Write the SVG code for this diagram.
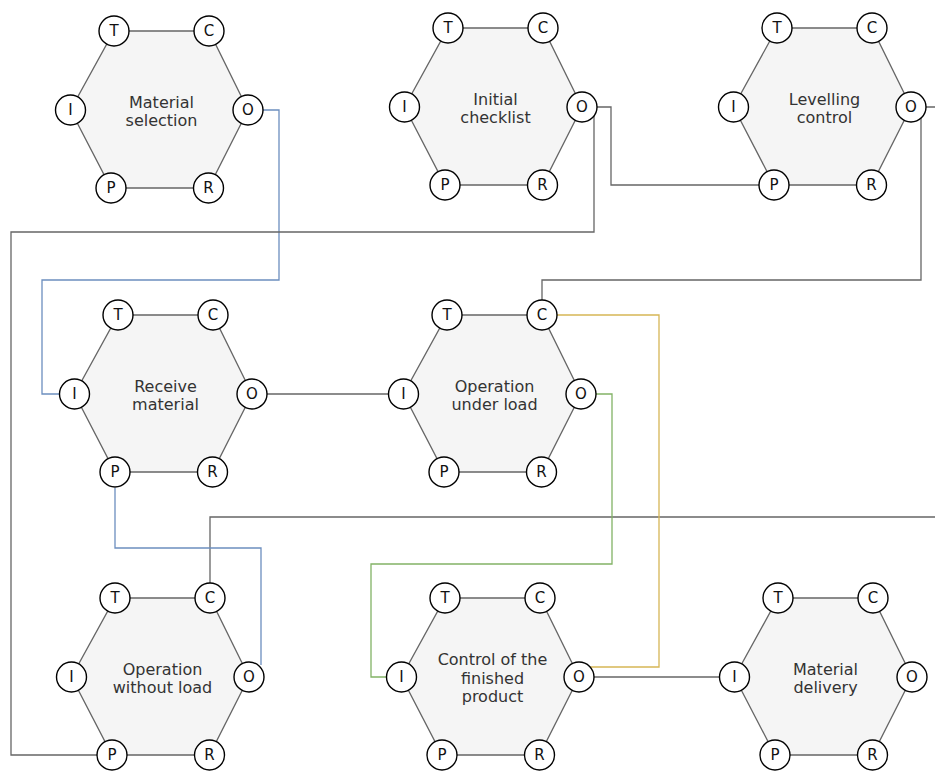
<svg xmlns="http://www.w3.org/2000/svg" width="935" height="771" viewBox="0 0 935 771">
  <style>
    .hex { fill: #f5f5f5; stroke: #666666; stroke-width: 1.3; }
    .port { fill: #ffffff; stroke: #000000; stroke-width: 1.4; }
    .pl { font-family: "DejaVu Sans", Verdana, sans-serif; font-size: 15px; fill: #111111; text-anchor: middle; dominant-baseline: central; }
    .lbl { font-family: "DejaVu Sans", Verdana, sans-serif; font-size: 16px; fill: #333333; text-anchor: middle; }
    .wire { fill: none; stroke-width: 1.3; }
    .gray { stroke: #666666; }
    .blue { stroke: #6c8ebf; }
    .green { stroke: #82b366; }
    .yellow { stroke: #d6b656; }
  </style>
  <defs>
    <!-- Hexagon with its six ports, centred on the origin -->
    <g id="hexnode">
      <polygon class="hex" points="-47.5,-79 47.5,-79 86.5,0 47,78 -50.5,78 -91,0"/>
      <circle class="port" cx="-47.5" cy="-79" r="15"/><text class="pl" x="-47.5" y="-79">T</text>
      <circle class="port" cx="47.5" cy="-79" r="15"/><text class="pl" x="47.5" y="-79">C</text>
      <circle class="port" cx="-91" cy="0" r="15"/><text class="pl" x="-91" y="0">I</text>
      <circle class="port" cx="86.5" cy="0" r="15"/><text class="pl" x="86.5" y="0">O</text>
      <circle class="port" cx="-50.5" cy="78" r="15"/><text class="pl" x="-50.5" y="78">P</text>
      <circle class="port" cx="47" cy="78" r="15"/><text class="pl" x="47" y="78">R</text>
    </g>
  </defs>

  <!-- connectors -->
  <g id="connectors">
    <path class="wire blue" d="M263 110 H279 V280 H42 V394 H60"/>
    <path class="wire gray" d="M597 107 H611 V185 H759"/>
    <path class="wire gray" d="M594 116 V232 H11 V755 H97"/>
    <path class="wire gray" d="M921 118 V280 H542 V300"/>
    <path class="wire gray" d="M926 107 H945 V517 H210 V583"/>
    <path class="wire gray" d="M267 394 H389"/>
    <path class="wire yellow" d="M557 315 H659 V667 H590"/>
    <path class="wire green" d="M596 394 H612 V564 H371 V677 H387"/>
    <path class="wire gray" d="M594 677 H720"/>
    <path class="wire blue" d="M115 488 V548 H261 V665"/>
  </g>

  <!-- nodes -->
  <g id="material-selection" transform="translate(161.5,110)">
    <use href="#hexnode"/>
    <text class="lbl" y="-2.5">Material</text>
    <text class="lbl" y="16">selection</text>
  </g>
  <g id="initial-checklist" transform="translate(495.5,107)">
    <use href="#hexnode"/>
    <text class="lbl" y="-2.5">Initial</text>
    <text class="lbl" y="16">checklist</text>
  </g>
  <g id="levelling-control" transform="translate(824.5,107)">
    <use href="#hexnode"/>
    <text class="lbl" y="-2.5">Levelling</text>
    <text class="lbl" y="16">control</text>
  </g>
  <g id="receive-material" transform="translate(165.5,394)">
    <use href="#hexnode"/>
    <text class="lbl" y="-2.5">Receive</text>
    <text class="lbl" y="16">material</text>
  </g>
  <g id="operation-under-load" transform="translate(494.5,394)">
    <use href="#hexnode"/>
    <text class="lbl" y="-2.5">Operation</text>
    <text class="lbl" y="16">under load</text>
  </g>
  <g id="operation-without-load" transform="translate(162.5,677)">
    <use href="#hexnode"/>
    <text class="lbl" y="-2.5">Operation</text>
    <text class="lbl" y="16">without load</text>
  </g>
  <g id="control-finished-product" transform="translate(492.5,677)">
    <use href="#hexnode"/>
    <text class="lbl" y="-12">Control of the</text>
    <text class="lbl" y="6.5">finished</text>
    <text class="lbl" y="25">product</text>
  </g>
  <g id="material-delivery" transform="translate(825.5,677)">
    <use href="#hexnode"/>
    <text class="lbl" y="-2.5">Material</text>
    <text class="lbl" y="16">delivery</text>
  </g>
</svg>
